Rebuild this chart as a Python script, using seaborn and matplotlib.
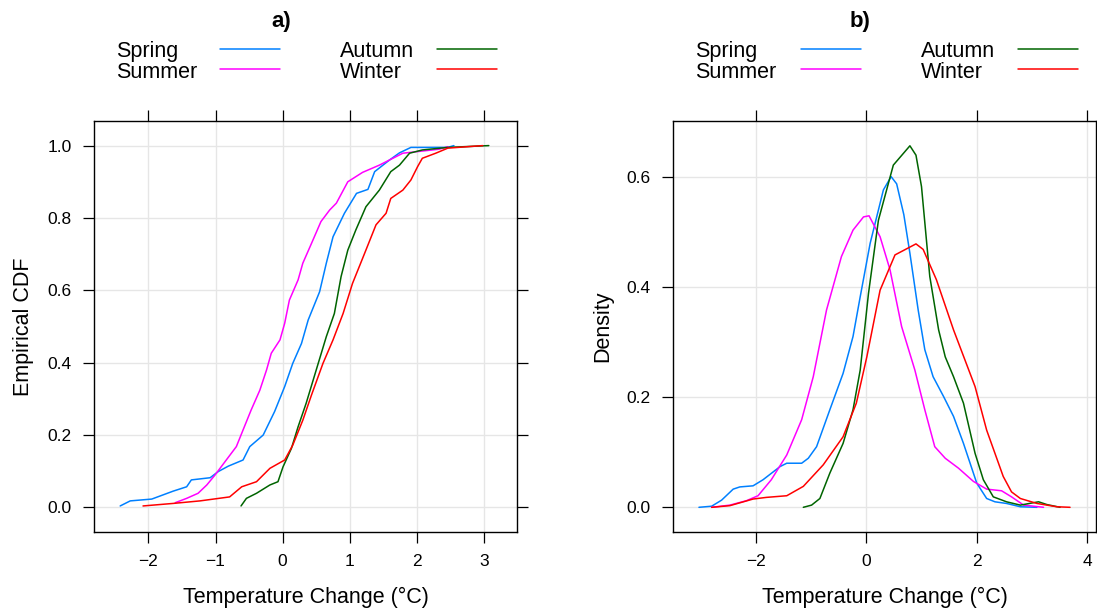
import numpy as np
import pandas as pd
import matplotlib
matplotlib.use("Agg")
import matplotlib.pyplot as plt
import seaborn as sns
from matplotlib.lines import Line2D

# ---------------- data ----------------
seasons = ["Spring", "Summer", "Autumn", "Winter"]
season_colors = ["#0080ff", "#ff00ff", "#006400", "#ff0000"]

# Panel a) empirical CDF (x = temperature change, y = cumulative prob.)
ecdf_spring_x = [-2.42, -2.27, -1.95, -1.63, -1.43, -1.36, -1.08, -0.96, -0.81, -0.59, -0.49,
                 -0.29, -0.12, 0.03, 0.15, 0.28, 0.38, 0.55, 0.65, 0.75, 0.92, 1.10, 1.27,
                 1.37, 1.59, 1.74, 1.91, 2.46, 2.55]
ecdf_spring_y = [0.004, 0.018, 0.023, 0.045, 0.057, 0.076, 0.082, 0.099, 0.114, 0.131, 0.168,
                 0.200, 0.265, 0.334, 0.398, 0.453, 0.518, 0.596, 0.675, 0.748, 0.813, 0.868,
                 0.879, 0.928, 0.960, 0.980, 0.995, 0.995, 1.000]
ecdf_summer_x = [-1.60, -1.43, -1.26, -1.13, -1.01, -0.84, -0.69, -0.59, -0.47, -0.34, -0.24,
                 -0.17, -0.04, 0.03, 0.10, 0.23, 0.30, 0.43, 0.57, 0.70, 0.80, 0.97, 1.19,
                 1.44, 1.79, 2.33, 2.46]
ecdf_summer_y = [0.013, 0.025, 0.039, 0.062, 0.089, 0.131, 0.168, 0.214, 0.269, 0.324, 0.380,
                 0.426, 0.463, 0.509, 0.573, 0.629, 0.675, 0.730, 0.790, 0.822, 0.841, 0.900,
                 0.926, 0.946, 0.979, 0.990, 0.997]
ecdf_autumn_x = [-0.62, -0.54, -0.39, -0.19, -0.07, 0.005, 0.13, 0.23, 0.35, 0.50, 0.65, 0.77,
                 0.87, 0.97, 1.09, 1.24, 1.44, 1.61, 1.74, 1.89, 2.08, 2.46, 3.07]
ecdf_autumn_y = [0.004, 0.025, 0.039, 0.062, 0.071, 0.112, 0.163, 0.223, 0.288, 0.380, 0.472,
                 0.536, 0.638, 0.711, 0.767, 0.831, 0.877, 0.928, 0.946, 0.979, 0.988, 0.995,
                 1.000]
ecdf_winter_x = [-2.08, -1.63, -1.23, -0.79, -0.61, -0.39, -0.19, 0.03, 0.15, 0.30, 0.43, 0.60,
                 0.75, 0.90, 1.04, 1.22, 1.39, 1.54, 1.61, 1.79, 1.91, 2.01, 2.08, 2.28, 2.46,
                 2.98]
ecdf_winter_y = [0.004, 0.011, 0.018, 0.029, 0.057, 0.071, 0.108, 0.131, 0.172, 0.241, 0.311,
                 0.398, 0.463, 0.536, 0.619, 0.702, 0.781, 0.813, 0.854, 0.877, 0.905, 0.942,
                 0.965, 0.979, 0.993, 1.000]

# Panel b) kernel density estimates
dens_spring_x = [-3.03, -2.80, -2.62, -2.41, -2.29, -2.05, -1.87, -1.56, -1.44, -1.17, -1.05,
                 -0.90, -0.66, -0.42, -0.24, -0.11, 0.07, 0.31, 0.45, 0.55, 0.68, 0.79, 0.94,
                 1.06, 1.21, 1.40, 1.58, 1.76, 2.00, 2.18, 2.33, 2.54, 2.79, 3.09]
dens_spring_y = [0.000, 0.002, 0.013, 0.033, 0.037, 0.039, 0.050, 0.074, 0.080, 0.080, 0.089,
                 0.110, 0.177, 0.243, 0.310, 0.382, 0.479, 0.576, 0.600, 0.587, 0.531, 0.461,
                 0.358, 0.286, 0.237, 0.201, 0.165, 0.116, 0.044, 0.016, 0.010, 0.007, 0.001,
                 0.000]
dens_summer_x = [-2.80, -2.47, -2.17, -1.96, -1.72, -1.44, -1.17, -0.96, -0.72, -0.45, -0.24,
                 -0.05, 0.05, 0.25, 0.43, 0.64, 0.88, 1.06, 1.24, 1.43, 1.67, 1.94, 2.18, 2.45,
                 2.63, 2.85, 3.21]
dens_summer_y = [0.000, 0.004, 0.012, 0.021, 0.050, 0.095, 0.159, 0.237, 0.358, 0.455, 0.503,
                 0.527, 0.529, 0.491, 0.431, 0.328, 0.249, 0.177, 0.110, 0.089, 0.071, 0.047,
                 0.033, 0.030, 0.019, 0.004, 0.000]
dens_autumn_x = [-1.14, -0.99, -0.84, -0.66, -0.42, -0.24, -0.11, 0.04, 0.22, 0.49, 0.79, 0.90,
                 1.00, 1.15, 1.31, 1.43, 1.58, 1.76, 1.97, 2.12, 2.30, 2.54, 2.79, 3.12, 3.27,
                 3.51]
dens_autumn_y = [0.000, 0.004, 0.016, 0.062, 0.116, 0.177, 0.249, 0.388, 0.521, 0.621, 0.656,
                 0.639, 0.582, 0.419, 0.322, 0.273, 0.237, 0.189, 0.098, 0.050, 0.019, 0.010,
                 0.004, 0.010, 0.005, 0.000]
dens_winter_x = [-2.80, -2.47, -2.05, -1.81, -1.44, -1.14, -0.78, -0.42, -0.18, 0.01, 0.25,
                 0.52, 0.90, 1.03, 1.27, 1.58, 1.97, 2.18, 2.48, 2.63, 2.79, 3.09, 3.45, 3.69]
dens_winter_y = [0.000, 0.003, 0.015, 0.018, 0.021, 0.038, 0.077, 0.128, 0.189, 0.273, 0.394,
                 0.458, 0.478, 0.468, 0.413, 0.322, 0.219, 0.140, 0.056, 0.028, 0.016, 0.007,
                 0.001, 0.000]

xticks_a = [-2, -1, 0, 1, 2, 3]
yticks_a = [0.0, 0.2, 0.4, 0.6, 0.8, 1.0]
xticks_b = [-2, 0, 2, 4]
yticks_b = [0.0, 0.2, 0.4, 0.6]


def frame(xs, ys):
    parts = []
    for s, x, y in zip(seasons, xs, ys):
        parts.append(pd.DataFrame({"x": x, "y": y, "season": s}))
    return pd.concat(parts, ignore_index=True)


df_a = frame([ecdf_spring_x, ecdf_summer_x, ecdf_autumn_x, ecdf_winter_x],
             [ecdf_spring_y, ecdf_summer_y, ecdf_autumn_y, ecdf_winter_y])
df_b = frame([dens_spring_x, dens_summer_x, dens_autumn_x, dens_winter_x],
             [dens_spring_y, dens_summer_y, dens_autumn_y, dens_winter_y])

# ---------------- style ----------------
sns.set_style("white")
plt.rcParams["font.family"] = ["Liberation Sans", "DejaVu Sans"]
plt.rcParams["axes.unicode_minus"] = True
for k in ("text.color", "axes.labelcolor", "xtick.color", "ytick.color",
          "xtick.labelcolor", "ytick.labelcolor"):
    plt.rcParams[k] = "black"

fig = plt.figure(figsize=(10.97, 6.14), dpi=100)
W, H = 1097, 614
top, bottom = 121, 532
ax_a = fig.add_axes([94 / W, 1 - bottom / H, (517 - 94) / W, (bottom - top) / H])
ax_b = fig.add_axes([673 / W, 1 - bottom / H, (1096 - 673) / W, (bottom - top) / H])

palette = dict(zip(seasons, season_colors))

for ax, df in [(ax_a, df_a), (ax_b, df_b)]:
    sns.lineplot(data=df, x="x", y="y", hue="season", hue_order=seasons, palette=palette,
                 estimator=None, sort=False, legend=False, linewidth=1.1, ax=ax, zorder=3)

ax_a.set_xlim(-2.81, 3.49)
ax_a.set_ylim(-0.068, 1.068)
ax_a.set_xticks(xticks_a)
ax_a.set_yticks(yticks_a)
ax_a.set_yticklabels([f"{v:.1f}" for v in yticks_a])
ax_a.set_ylabel("Empirical CDF", fontsize=15.5, labelpad=10)

ax_b.set_xlim(-3.50, 4.16)
ax_b.set_ylim(-0.0448, 0.701)
ax_b.set_xticks(xticks_b)
ax_b.set_yticks(yticks_b)
ax_b.set_yticklabels([f"{v:.1f}" for v in yticks_b])
ax_b.set_ylabel("Density", fontsize=15.5, labelpad=10)

for ax in (ax_a, ax_b):
    ax.set_xlabel("Temperature Change (°C)", fontsize=15.5, labelpad=13)
    ax.grid(True, color="#e6e6e6", linewidth=1.0, zorder=0)
    ax.set_axisbelow(True)
    for sp in ax.spines.values():
        sp.set_visible(True)
        sp.set_color("black")
        sp.set_linewidth(1.0)
    ax.tick_params(axis="both", which="both", direction="out", length=8, width=0.9,
                   color="black", labelsize=12.5, pad=8,
                   top=True, right=True, bottom=True, left=True,
                   labeltop=False, labelright=False)

# titles
fig.text(281 / W, 1 - 21 / H, "a)", ha="center", va="center", fontsize=16, fontweight="bold")
fig.text(860 / W, 1 - 21 / H, "b)", ha="center", va="center", fontsize=16, fontweight="bold")

# legends (lattice style: text left-aligned, then line), drawn in figure pixel space
def draw_key(text_x, line_x):
    rows_line = [48.5, 69.0]
    for i, (s, c) in enumerate(zip(seasons, season_colors)):
        col, row = divmod(i, 2)
        ly = rows_line[row]
        fig.text(text_x[col] / W, 1 - (ly + 8.8) / H, s, ha="left", va="baseline",
                 fontsize=15.5)
        fig.add_artist(Line2D([line_x[col] / W, (line_x[col] + 60) / W],
                              [1 - ly / H, 1 - ly / H], color=c, linewidth=1.1,
                              transform=fig.transFigure))


draw_key([116, 340], [220, 437])
draw_key([695.5, 921], [801, 1018])

fig.savefig("out.png", dpi=100)
